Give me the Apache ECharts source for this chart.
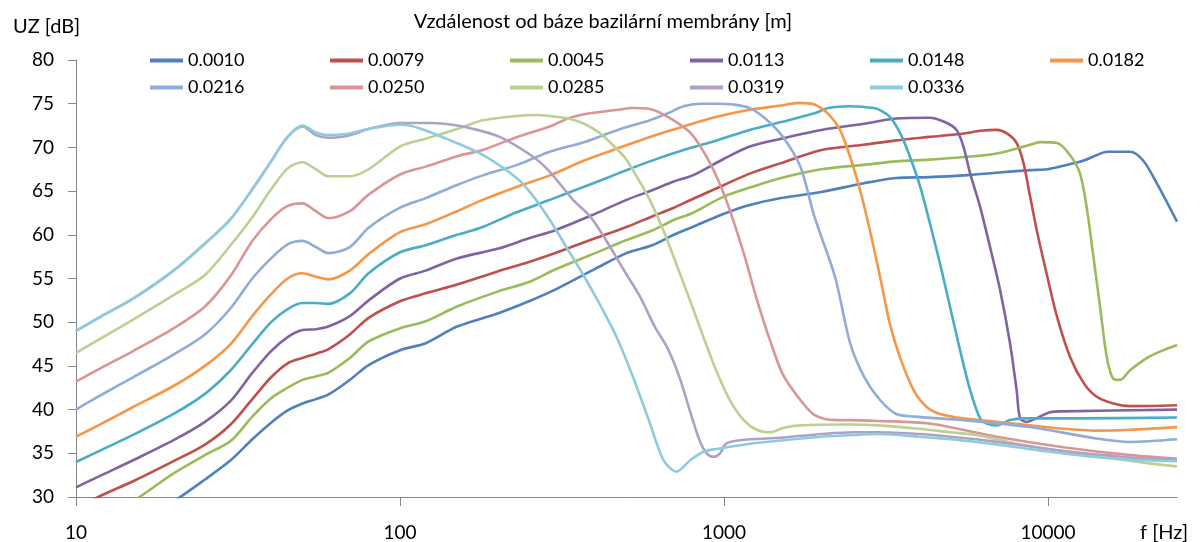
<!DOCTYPE html>
<html><head><meta charset="utf-8">
<script src="https://cdn.jsdelivr.net/npm/echarts@6/dist/echarts.min.js"></script>
<style>html,body{margin:0;padding:0;background:#fff}#c{width:1201px;height:542px}</style>
</head><body><div id="c"></div>
<script>
const seriesNames = ['0.0010','0.0079','0.0045','0.0113','0.0148','0.0182','0.0216','0.0250','0.0285','0.0319','0.0336'];
const xTickValues = [10, 100, 1000, 10000];

const f0010 = [10,12,15,20,25,30,35,40,45,50,55,60,70,80,100,120,150,200,250,300,400,500,600,700,800,1000,1200,1500,2000,2700,3400,4300,5500,6900,8800,9950,11150,12900,14100,15200,17900,19650,21650,25000];
const uz0010 = [23.5,25.0,26.9,29.5,32.0,34.2,36.6,38.5,39.9,40.7,41.2,41.7,43.4,45.1,46.8,47.6,49.5,51.0,52.4,53.7,56.1,57.9,58.8,60.0,60.9,62.4,63.4,64.2,64.9,65.9,66.5,66.6,66.8,67.1,67.4,67.5,67.9,68.5,69.1,69.5,69.5,68.5,65.9,61.5];

const f0079 = [10,12,15,20,25,30,35,40,45,50,55,60,70,80,100,120,150,200,250,300,400,500,600,700,800,1000,1200,1500,2000,2700,3400,4300,5500,6170,6940,7460,8000,8400,8800,9230,9950,10660,11700,12900,14100,15900,17900,25000];
const uz0079 = [28.6,30.2,31.8,34.1,36.0,38.3,41.2,43.7,45.3,45.9,46.4,46.9,48.6,50.5,52.4,53.3,54.3,55.8,56.9,57.9,59.6,60.9,62.1,63.1,64.1,65.7,67.0,68.2,69.7,70.3,70.8,71.2,71.6,71.9,72.0,71.6,70.5,68.2,64.4,60.5,55.2,50.6,46.0,43.0,41.5,40.7,40.4,40.5];

const f0045 = [10,12,15,20,25,30,35,40,45,50,55,60,70,80,100,120,150,200,250,300,400,500,600,700,800,1000,1200,1500,2000,2700,3400,4300,5500,6940,8800,9450,10660,11700,12550,13150,13800,14470,15180,15930,16680,17900,20400,22700,25000];
const uz0045 = [26.1,27.5,29.5,32.7,34.8,36.4,39.2,41.3,42.5,43.4,43.8,44.2,45.9,47.8,49.3,50.1,51.8,53.5,54.6,56.0,57.9,59.4,60.5,61.7,62.5,64.4,65.4,66.5,67.5,68.0,68.4,68.6,68.9,69.3,70.3,70.6,70.5,69.1,67.0,63.2,57.5,51.8,46.0,43.5,43.4,44.5,46.0,46.8,47.4];

const f0113 = [10,12,15,20,25,30,35,40,45,50,55,60,70,80,100,120,150,200,250,300,400,500,600,700,800,1000,1200,1500,2000,2700,3400,4300,4800,5220,5480,5750,6170,6620,7110,7630,8000,8200,8600,9200,10140,11150,25000];
const uz0113 = [31.1,32.5,34.2,36.5,38.6,41.0,44.2,46.7,48.3,49.1,49.2,49.5,50.7,52.5,55.0,55.9,57.3,58.4,59.6,60.5,62.4,64.0,65.1,66.1,66.8,68.7,70.1,71.0,72.0,72.7,73.3,73.4,72.9,72.0,70.1,67.0,63.2,58.6,53.7,47.6,42.2,39.0,38.6,39.0,39.7,39.8,40.0];

const f0148 = [10,12,15,20,25,30,35,40,45,50,55,60,70,80,100,120,150,180,230,290,370,470,590,750,950,1200,1500,1900,2100,2450,2900,3050,3250,3500,3750,4030,4320,4640,4980,5350,5750,6170,6470,6940,7630,8500,12000,25000];
const uz0148 = [34.0,35.4,37.1,39.5,41.8,44.5,47.5,50.0,51.5,52.2,52.2,52.1,53.3,55.6,58.0,58.8,60.0,60.9,62.6,64.0,65.5,67.0,68.4,69.7,70.8,72.0,72.9,73.9,74.5,74.7,74.5,74.2,73.5,71.6,68.9,65.5,61.3,56.7,51.8,46.8,42.2,39.0,38.4,38.2,38.8,39.0,39.0,39.1];

const f0182 = [10,12,15,20,25,30,35,40,45,50,55,60,70,80,100,120,150,180,230,290,370,470,590,750,950,1200,1500,1700,1900,2100,2280,2450,2630,2820,3030,3250,3490,3850,4220,4640,5480,6940,8800,11150,14100,17900,25000];
const uz0182 = [36.9,38.4,40.3,42.7,45.0,47.5,50.7,53.2,55.0,55.6,55.2,54.9,55.9,57.8,60.3,61.2,62.7,64.0,65.5,66.8,68.5,69.9,71.2,72.4,73.5,74.3,74.8,75.1,74.9,73.8,72.0,68.9,65.1,60.5,55.2,49.8,46.0,42.2,40.3,39.5,39.0,38.6,38.2,37.8,37.6,37.7,38.0];

const f0216 = [10,12,15,20,25,30,35,40,45,50,55,60,70,80,100,120,150,180,230,290,370,470,590,670,750,840,950,1070,1200,1340,1520,1720,1900,2200,2450,2710,3030,3400,3850,5480,8800,14100,17900,25000];
const uz0216 = [40.0,41.7,43.7,46.3,48.6,51.6,55.0,57.3,58.9,59.3,58.6,57.9,58.6,60.8,63.1,64.2,65.7,66.8,68.0,69.5,70.6,72.0,73.1,73.9,74.7,75.0,75.0,74.9,74.5,73.3,71.2,67.8,62.1,55.2,47.6,43.7,41.1,39.5,39.2,38.8,38.0,36.7,36.3,36.6];

const f0250 = [10,12,15,20,25,30,35,40,45,50,55,60,70,80,100,120,150,180,230,290,330,370,470,520,590,670,790,905,1015,1150,1260,1390,1520,1720,1900,2200,2450,3000,4300,6940,11150,17900,25000];
const uz0250 = [43.2,44.8,46.7,49.3,51.8,55.3,59.3,61.8,63.3,63.6,62.7,61.9,62.7,64.6,66.9,67.8,69.0,69.7,71.2,72.4,73.3,73.8,74.3,74.5,74.4,73.5,71.6,68.2,64.0,57.9,52.7,47.8,44.0,41.1,39.4,38.8,38.8,38.7,38.4,36.9,35.7,34.8,34.4];

const f0285 = [10,12,15,20,25,30,35,40,45,50,55,60,70,80,100,120,150,180,230,260,290,330,370,415,470,500,535,590,650,715,785,870,950,1045,1150,1260,1390,1520,1720,2450,3000,4000,5000,6000,8000,10000,13000,16000,20000,25000];
const uz0285 = [46.5,48.2,50.3,53.1,55.4,58.8,62.0,65.2,67.6,68.3,67.5,66.7,66.7,67.5,70.1,71.0,72.1,73.1,73.6,73.7,73.6,73.3,72.7,71.6,69.7,68.6,66.8,64.0,60.5,56.5,52.5,48.0,44.3,41.0,38.8,37.7,37.4,37.9,38.2,38.3,38.2,37.8,37.4,37.1,36.1,35.5,34.9,34.4,33.9,33.5];

const f0319 = [10,12,15,20,25,30,35,40,45,50,55,60,70,80,100,125,145,165,203,258,290,342,386,432,490,551,611,670,730,790,840,884,928,972,1015,1120,1520,2000,2500,3000,4000,5000,6000,8000,10000,13000,16000,20000,25000];
const uz0319 = [49.0,50.7,52.7,55.9,59.0,61.8,65.2,68.4,71.2,72.4,71.4,71.1,71.4,72.1,72.8,72.8,72.6,72.2,71.2,68.9,67.2,64.0,62.1,59.4,56.0,52.9,49.5,47.0,43.6,39.5,36.5,35.0,34.6,35.0,36.1,36.5,36.8,37.2,37.4,37.4,37.2,36.9,36.6,36.0,35.5,35.0,34.7,34.4,34.3];

const f0336 = [10,12,15,20,25,30,35,40,45,50,55,60,70,80,100,107,123,143,181,229,258,290,326,368,414,466,524,591,651,714,786,868,950,1203,1525,2000,2500,3000,4000,5000,6000,8000,10000,13000,16000,20000,25000];
const uz0336 = [49.0,50.7,52.7,55.9,59.0,61.8,65.2,68.4,71.2,72.5,71.7,71.4,71.6,72.1,72.6,72.5,71.8,70.8,69.1,66.5,64.4,61.7,58.6,55.4,52.0,48.3,43.7,38.4,34.2,32.9,34.2,35.2,35.5,36.1,36.5,36.9,37.1,37.2,36.9,36.6,36.3,35.7,35.2,34.7,34.4,34.2,34.1];

const freqLists = [f0010,f0079,f0045,f0113,f0148,f0182,f0216,f0250,f0285,f0319,f0336];
const valueLists = [uz0010,uz0079,uz0045,uz0113,uz0148,uz0182,uz0216,uz0250,uz0285,uz0319,uz0336];
const colors = ['#4F81BD','#C0504D','#9BBB59','#8064A2','#4BACC6','#F79646','#90ACD8','#D99694','#BAD192','#B0A0C8','#8ECBDD'];

const FONT = 'Lato';
const chart = echarts.init(document.getElementById('c'));
const series = seriesNames.map((n, i) => ({
  name: n, type: 'line',
  data: freqLists[i].map((f, j) => [f, valueLists[i][j]]),
  symbol: 'none', showSymbol: false,
  smooth: 0.3, clip: true,
  lineStyle: { width: 2.6, color: colors[i] },
  itemStyle: { color: colors[i] },
  emphasis: { disabled: true }
}));

chart.setOption({
  animation: false,
  backgroundColor: '#ffffff',
  grid: { left: 76, right: 24, top: 60, bottom: 45 },
  xAxis: {
    type: 'log', logBase: 10, min: 10, max: 25000,
    axisLine: { show: true, lineStyle: { color: '#868686', width: 1 } },
    axisTick: { show: true, length: 9, customValues: xTickValues, lineStyle: { color: '#868686' } },
    axisLabel: { customValues: xTickValues, margin: 26, fontSize: 19, fontFamily: FONT, color: '#000',
      formatter: v => String(Math.round(v)) },
    splitLine: { show: false }, minorTick: { show: false }
  },
  yAxis: {
    type: 'value', min: 30, max: 80, interval: 5,
    axisLine: { show: true, lineStyle: { color: '#868686', width: 1 } },
    axisTick: { show: true, length: 8, lineStyle: { color: '#868686' } },
    axisLabel: { margin: 22, fontSize: 19, fontFamily: FONT, color: '#000' },
    splitLine: { show: false }
  },
  legend: {
    data: seriesNames, left: 150, top: 47, width: 1090, padding: 0, itemGap: 0,
    itemWidth: 33, itemHeight: 4, icon: 'rect',
    textStyle: { fontFamily: FONT, fontSize: 18, color: '#000', width: 142, lineHeight: 27 }
  },
  graphic: [
    { type: 'text', x: 603, y: 22, style: { text: 'Vzdálenost od báze bazilární membrány [m]', font: '20px Lato', fill: '#000', textAlign: 'center', textVerticalAlign: 'middle', align: 'center', verticalAlign: 'middle' } },
    { type: 'text', x: 13, y: 27, style: { text: 'UZ [dB]', font: '20px Lato', fill: '#000', textAlign: 'left', textVerticalAlign: 'middle', align: 'left', verticalAlign: 'middle' } },
    { type: 'text', x: 1140, y: 533, style: { text: 'f [Hz]', font: '20px Lato', fill: '#000', textAlign: 'left', textVerticalAlign: 'middle', align: 'left', verticalAlign: 'middle' } }
  ],
  series: series
});
</script>
</body></html>
